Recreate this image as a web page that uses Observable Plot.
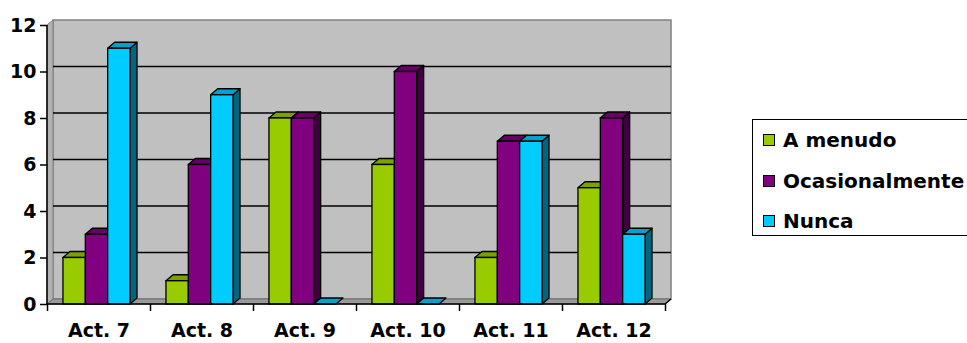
<!DOCTYPE html>
<html>
<head>
<meta charset="utf-8">
<script src="https://cdn.jsdelivr.net/npm/d3@7"></script>
<script src="https://cdn.jsdelivr.net/npm/@observablehq/plot@0.6"></script>
<style>
  html, body { margin: 0; padding: 0; background: #fff; overflow: hidden; }
  #wrap { position: relative; width: 967px; height: 343px; overflow: hidden; font-family: "DejaVu Sans", sans-serif; }
  #legend {
    position: absolute; left: 752px; top: 119px; width: 260px; height: 117px;
    border: 1.5px solid #000; background: #fff; box-sizing: border-box;
  }
  .item { position: absolute; left: 10px; display: flex; align-items: center; height: 24px;
    font-weight: bold; font-size: 20px; color: #000; white-space: nowrap; }
  .swatch { width: 10px; height: 10px; border: 1.5px solid #000; margin-right: 8px; }
</style>
</head>
<body>
<div id="wrap"></div>
<script>
// Survey answers per activity
const categories = ["Act. 7", "Act. 8", "Act. 9", "Act. 10", "Act. 11", "Act. 12"];
const seriesNames = ["A menudo", "Ocasionalmente", "Nunca"];
const aMenudo = [2, 1, 8, 6, 2, 5];
const ocasionalmente = [3, 6, 8, 10, 7, 8];
const nunca = [11, 9, 0, 0, 7, 3];
const yTicks = [0, 2, 4, 6, 8, 10, 12];
const seriesColors = ["#99CC00", "#800080", "#00CCFF"];

// Layout of the clustered 3D columns (in category units / pixels)
const GROUP_START = 0.155;
const BAR_W = 0.217;
const WALL_DEPTH = [6, -5];
const BAR_DEPTH = [7, -6];

const seriesValues = [aMenudo, ocasionalmente, nunca];
const bars = categories.flatMap((cat, i) =>
  seriesValues.map((vals, j) => ({cat, i, j, serie: seriesNames[j], value: vals[i]}))
);
const barX1 = d => d.i + GROUP_START + d.j * BAR_W;
const barX2 = d => d.i + GROUP_START + (d.j + 1) * BAR_W;

// Back wall, left wall, floor and gridlines of the 3D box
function walls(index, scales) {
  const {x, y} = scales;
  const [dx, dy] = WALL_DEPTH;
  const x0 = x(0), x1 = x(categories.length);
  const y0 = y(0), yTop = y(d3.max(yTicks));
  const g = d3.create("svg:g");
  g.append("rect")
    .attr("x", x0 + dx).attr("y", yTop + dy)
    .attr("width", x1 - x0).attr("height", y0 - yTop)
    .attr("fill", "#c0c0c0").attr("stroke", "#808080").attr("stroke-width", 1.5);
  g.append("path")
    .attr("d", `M${x0},${y0}L${x0 + dx},${y0 + dy}L${x0 + dx},${yTop + dy}L${x0},${yTop}Z`)
    .attr("fill", "#b2b2b2").attr("stroke", "#808080").attr("stroke-width", 1);
  g.append("path")
    .attr("d", `M${x0},${y0}L${x1},${y0}L${x1 + dx},${y0 + dy}L${x0 + dx},${y0 + dy}Z`)
    .attr("fill", "#9a9a9a").attr("stroke", "#6e6e6e").attr("stroke-width", 1);
  for (const t of yTicks.slice(1, -1)) {
    g.append("line")
      .attr("x1", x0 + dx).attr("x2", x1 + dx)
      .attr("y1", y(t) + dy).attr("y2", y(t) + dy)
      .attr("stroke", "#000").attr("stroke-width", 1.6);
  }
  return g.node();
}

// Top and side faces of each column
function columnFaces(index, scales) {
  const {x, y, color} = scales;
  const [dx, dy] = BAR_DEPTH;
  const g = d3.create("svg:g")
    .attr("stroke", "#000").attr("stroke-width", 1.3).attr("stroke-linejoin", "round");
  for (const d of bars) {
    const xa = x(barX1(d)), xb = x(barX2(d));
    const yb = y(0), yt = y(d.value);
    const c = d3.color(color(d.serie));
    if (yb > yt) {
      g.append("path")
        .attr("d", `M${xb},${yb}L${xb + dx},${yb + dy}L${xb + dx},${yt + dy}L${xb},${yt}Z`)
        .attr("fill", c.darker(1.95).formatHex());
    }
    g.append("path")
      .attr("d", `M${xa},${yt}L${xa + dx},${yt + dy}L${xb + dx},${yt + dy}L${xb},${yt}Z`)
      .attr("fill", c.darker(0.65).formatHex());
  }
  return g.node();
}

// Front axis lines along the near edges of the box
function axisLines(index, scales) {
  const {x, y} = scales;
  const [dx, dy] = WALL_DEPTH;
  const x0 = x(0), x1 = x(categories.length);
  const y0 = y(0), yTop = y(d3.max(yTicks));
  const g = d3.create("svg:g");
  g.append("path")
    .attr("d", `M${x0},${yTop}L${x0},${y0}L${x1},${y0}L${x1 + dx},${y0 + dy}`)
    .attr("fill", "none").attr("stroke", "#000").attr("stroke-width", 1.5);
  return g.node();
}

const chart = Plot.plot({
  width: 967,
  height: 343,
  marginLeft: 47,
  marginRight: 302,
  marginTop: 25,
  marginBottom: 39,
  style: {fontFamily: "DejaVu Sans", fontWeight: "bold", fontSize: "19px", color: "#000", background: "transparent"},
  x: {type: "linear", domain: [0, categories.length], label: null},
  y: {domain: [0, d3.max(yTicks)], label: null},
  color: {domain: seriesNames, range: seriesColors},
  marks: [
    walls,
    columnFaces,
    Plot.rect(bars, {
      x1: barX1, x2: barX2, y1: 0, y2: "value",
      fill: "serie", stroke: "#000", strokeWidth: 1.3
    }),
    axisLines,
    Plot.axisY({ticks: yTicks, tickSize: 7, tickPadding: 4, strokeWidth: 1.5, fontSize: 19, fontWeight: "bold", label: null}),
    Plot.axisX({ticks: d3.range(categories.length + 1), tickSize: 7, strokeWidth: 1.5, tickFormat: () => "", label: null}),
    Plot.axisX({
      ticks: categories.map((_, i) => i + 0.5), tickSize: 0, tickPadding: 19,
      fontSize: 19, fontWeight: "bold", label: null,
      tickFormat: d => categories[Math.floor(d)]
    })
  ]
});

const wrap = document.getElementById("wrap");
wrap.appendChild(chart);
chart.style.position = "absolute";
chart.style.left = "0";
chart.style.top = "0";

// Legend box on the right
const legend = document.createElement("div");
legend.id = "legend";
const rowCenters = [20, 61, 101];
seriesNames.forEach((name, j) => {
  const item = document.createElement("div");
  item.className = "item";
  item.style.top = (rowCenters[j] - 12) + "px";
  const sw = document.createElement("div");
  sw.className = "swatch";
  sw.style.background = seriesColors[j];
  const label = document.createElement("span");
  label.textContent = name;
  item.appendChild(sw);
  item.appendChild(label);
  legend.appendChild(item);
});
wrap.appendChild(legend);
</script>
</body>
</html>
